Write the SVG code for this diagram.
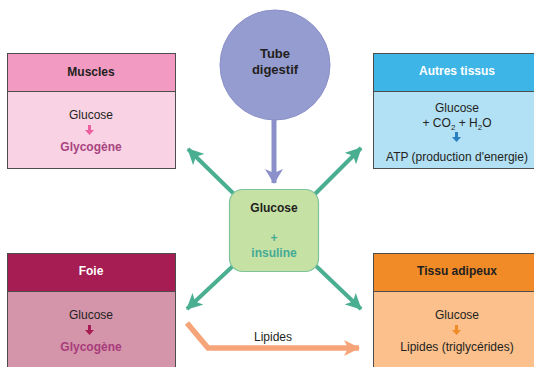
<svg xmlns="http://www.w3.org/2000/svg" width="534" height="367" viewBox="0 0 534 367">
<defs>
<style>
text{font-family:"Liberation Sans",Arial,sans-serif;font-size:12px;text-anchor:middle;fill:#231f20}
.b{font-weight:bold}
.w{fill:#ffffff}
.frame{stroke:#4d4d4d;stroke-width:1}
.g{stroke:#4aae90;stroke-width:4;fill:none}
</style>
<marker id="ga" markerUnits="userSpaceOnUse" markerWidth="18" markerHeight="16" refX="15" refY="8" orient="auto">
<path d="M0,0 L16,8 L0,16 L4,8 Z" fill="#4aae90"/>
</marker>
<marker id="pa" markerUnits="userSpaceOnUse" markerWidth="20" markerHeight="18" refX="14" refY="9" orient="auto">
<path d="M0,0 L15,9 L0,18 L4,9 Z" fill="#8b90ca"/>
</marker>
<marker id="oa" markerUnits="userSpaceOnUse" markerWidth="18" markerHeight="16" refX="15" refY="8" orient="auto">
<path d="M0,0 L16,8 L0,16 L4,8 Z" fill="#f6a57a"/>
</marker>
</defs>

<g id="connectors">
<line x1="274" y1="119" x2="274" y2="183" stroke="#8b90ca" stroke-width="5" marker-end="url(#pa)"/>
<line class="g" x1="234" y1="194" x2="188" y2="149" marker-end="url(#ga)"/>
<line class="g" x1="315" y1="194" x2="361" y2="148" marker-end="url(#ga)"/>
<line class="g" x1="234" y1="265" x2="187" y2="309" marker-end="url(#ga)"/>
<line class="g" x1="315" y1="265" x2="361" y2="309" marker-end="url(#ga)"/>
<polyline points="187,323 208,348 359,348" fill="none" stroke="#f6a57a" stroke-width="5.5" marker-end="url(#oa)"/>
<text x="273" y="341">Lipides</text>
</g>

<g id="muscles">
<rect class="frame" x="7.5" y="53.5" width="168" height="38" fill="#f29ac1"/>
<rect class="frame" x="7.5" y="91.5" width="168" height="77" fill="#f9d3e4"/>
<text class="b" x="91" y="76">Muscles</text>
<text x="91" y="119">Glucose</text>
<path d="M88,125 h3 v5 h3 l-4.5,5 l-4.5,-5 h3 z" fill="#ee5fa0"/>
<text class="b" x="91" y="151" fill="#a8437f" style="fill:#a8437f">Glycogène</text>
</g>

<g id="autres">
<rect class="frame" x="373.5" y="53.5" width="168" height="38" fill="#3db5e6"/>
<rect class="frame" x="373.5" y="91.5" width="168" height="77" fill="#b2e0f4"/>
<text class="b w" x="457" y="75">Autres tissus</text>
<text x="457" y="112">Glucose</text>
<text x="457" y="127">+ CO<tspan font-size="8" dy="3">2</tspan><tspan dy="-3"> + H</tspan><tspan font-size="8" dy="3">2</tspan><tspan dy="-3">O</tspan></text>
<path d="M455,132 h3 v5 h3 l-4.5,5 l-4.5,-5 h3 z" fill="#2a7fc0"/>
<text x="457" y="161">ATP (production d'energie)</text>
</g>

<g id="tube">
<circle cx="275" cy="65" r="55" fill="#959ccf" stroke="#8b90ca" stroke-width="1"/>
<text class="b" x="275" y="58" style="font-size:13px">Tube</text>
<text class="b" x="275" y="74" style="font-size:13px">digestif</text>
</g>

<g id="glucose">
<rect x="229.5" y="189.5" width="89" height="82" rx="13" fill="#c6e1a4" stroke="#7ec39c" stroke-width="1.2"/>
<text class="b" x="274" y="212">Glucose</text>
<text class="b" x="274" y="242" style="fill:#45ab96">+</text>
<text class="b" x="274" y="257" style="fill:#45ab96">insuline</text>
</g>

<g id="foie">
<rect class="frame" x="7.5" y="253.5" width="168" height="38" fill="#a51d52"/>
<rect class="frame" x="7.5" y="291.5" width="168" height="80" fill="#d494a9"/>
<text class="b w" x="91" y="275">Foie</text>
<text x="91" y="319">Glucose</text>
<path d="M88,325 h3 v5 h3 l-4.5,5 l-4.5,-5 h3 z" fill="#a51d52"/>
<text class="b" x="91" y="351" style="fill:#a83c7b">Glycogène</text>
</g>

<g id="adipeux">
<rect class="frame" x="373.5" y="253.5" width="168" height="38" fill="#f18b27"/>
<rect class="frame" x="373.5" y="291.5" width="168" height="80" fill="#fbc08c"/>
<text class="b" x="457" y="275">Tissu adipeux</text>
<text x="457" y="319">Glucose</text>
<path d="M455,325 h3 v5 h3 l-4.5,5 l-4.5,-5 h3 z" fill="#f18b27"/>
<text x="457" y="351">Lipides (triglycérides)</text>
</g>
</svg>
